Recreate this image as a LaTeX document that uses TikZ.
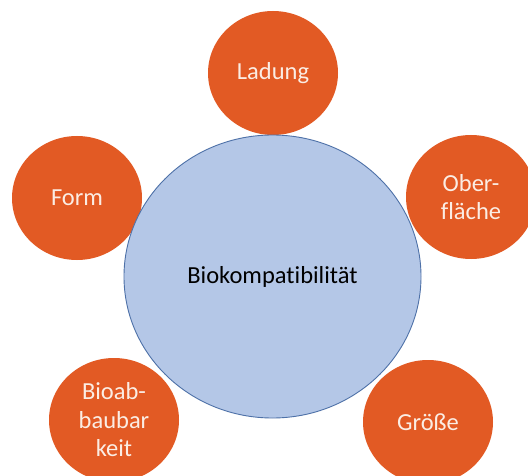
\documentclass[tikz,border=0pt]{standalone}
\usepackage{fontspec}
\setmainfont[Ligatures=NoCommon]{Carlito}
\usetikzlibrary{shapes.geometric}
\definecolor{petalorange}{HTML}{E25A24}
\definecolor{hubblue}{HTML}{B4C7E7}
\definecolor{hubline}{HTML}{4E71A8}
\definecolor{petaltext}{HTML}{FBEDE4}
\tikzset{
  petal/.style={ellipse, fill=petalorange, minimum width=130pt, minimum height=124pt,
    inner sep=0pt, align=center, text=petaltext, font=\fontsize{24.5}{28.5}\selectfont},
  hub/.style={ellipse, fill=hubblue, draw=hubline, line width=0.9pt,
    minimum width=297pt, minimum height=283pt, font=\fontsize{24.5}{28.5}\selectfont}
}
\begin{document}
\begin{tikzpicture}[x=1pt,y=-1pt]
    \useasboundingbox (0,0) rectangle (528,476);
    \clip (0,0) rectangle (528,476);
    \fill[white] (0,0) rectangle (528,476);
    \foreach \x/\y/\name/\txt in {273/73/ladung/Ladung, 77/198/form/Form,
      471/197/oberflaeche/{Ober-\\fläche}, 114/420/abbau/{Bioab-\\baubar\\keit},
      428/422/groesse/Größe} {
      \node[petal] (\name) at (\x,\y) {\txt};
    }
    \node[hub] (bio) at (272.5,276.5) {Biokompatibilität};
  \end{tikzpicture}
\end{document}
